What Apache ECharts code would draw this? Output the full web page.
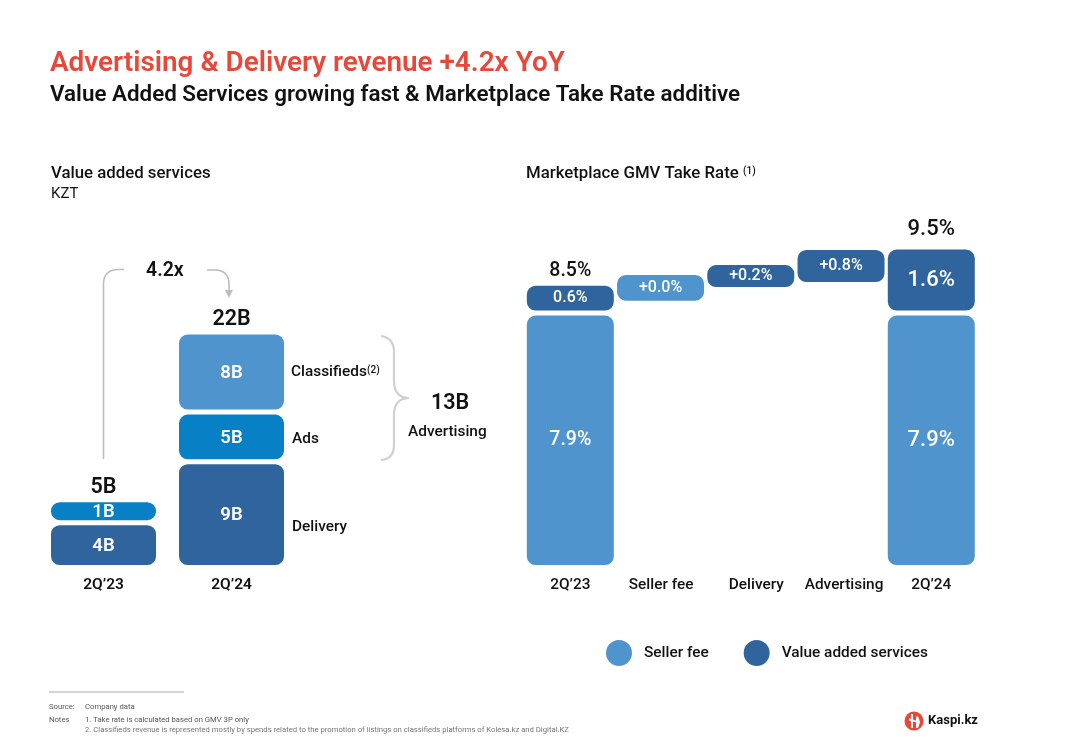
<!DOCTYPE html>
<html><head><meta charset="utf-8">
<style>html,body{margin:0;padding:0;background:#fff}#c{width:1083px;height:750px}</style>
<script src="https://cdn.jsdelivr.net/npm/echarts@6/dist/echarts.min.js"></script>
</head><body><div id="c"></div>
<script>
const vasCategories = ["2Q’23", "2Q’24"];
const deliveryValues = [4.2, 9.9];
const adsValues = [2.15, 4.65];
const classifiedsValues = [null, 7.5];
const deliveryLabels = ["4B", "9B"];
const adsLabels = ["1B", "5B"];
const classifiedsLabels = ["", "8B"];
const vasTotals = ["5B", "22B"];

const rateCategories = ["2Q’23", "Seller fee", "Delivery", "Advertising", "2Q’24"];
const baseValues = [0, 8.21, 8.63, 8.79, 0];
const sellerValues = [7.9, 0.95, null, null, 7.9];
const addedValues = [0.93, null, 0.84, 1.15, 2.05];
const sellerLabels = ["7.9%", "+0.0%", "", "", "7.9%"];
const addedLabels = ["0.6%", "", "+0.2%", "+0.8%", "1.6%"];
const rateTotals = ["8.5%", "", "", "", "9.5%"];

const BLUE_DARK = '#2F659C', BLUE_MID = '#0880C5', BLUE_LIGHT = '#4F94CD', GREY = '#BDBDBD';
const FONT = 'Roboto';
const barStyle = c => ({color: c, borderColor: '#fff', borderWidth: 2.5, borderRadius: 10});
const sum = (...a) => vasCategories.map((_, i) => a.reduce((s, x) => s + (x[i] || 0), 0));
const rateSum = rateCategories.map((_, i) => (baseValues[i] || 0) + (sellerValues[i] || 0) + (addedValues[i] || 0));

function inner(labels, size) {
  return {show: true, position: 'inside', offset: [0, 1], color: '#fff', fontFamily: FONT, fontWeight: 600,
    fontSize: size, formatter: p => labels[p.dataIndex]};
}
function innerRate(labels) {
  return {show: true, position: 'inside', color: '#fff', fontFamily: FONT, fontWeight: 500,
    formatter: p => labels[p.dataIndex], fontSize: 16};
}
// label sizes by column: the last column of the reference uses a larger type
function rateData(vals) {
  return vals.map((v, i) => v === null ? null : {value: v,
    label: {fontSize: i === 0 && v > 5 ? 19.5 : (i === 4 ? 22 : 16)}});
}
const text = (x, y, t, size, weight, extra) => ({type: 'text', x, y,
  style: Object.assign({text: t, fontFamily: FONT, fontSize: size, fontWeight: weight, fill: '#111',
    textVerticalAlign: 'middle'}, extra || {})});
// curve: start point, then [x,y] straight segments or [cx,cy,x,y] quadratic segments
function curve(start, segs) {
  const pts = [start];
  let p = start;
  segs.forEach(s => {
    if (s.length === 2) { pts.push(s); p = s; return; }
    for (let k = 1; k <= 10; k++) {
      const t = k / 10, u = 1 - t;
      pts.push([u*u*p[0] + 2*u*t*s[0] + t*t*s[2], u*u*p[1] + 2*u*t*s[1] + t*t*s[3]]);
    }
    p = [s[2], s[3]];
  });
  return pts;
}
const poly = (points, color, w) => ({type: 'polyline', shape: {points},
  style: {fill: 'none', stroke: color, lineWidth: w, lineJoin: 'round'}});
const axisShift = [0, 1, 11, 6, 0];

const chart = echarts.init(document.getElementById('c'), null, {renderer: 'canvas'});
chart.setOption({
  animation: false,
  backgroundColor: '#fff',
  title: [
    {text: 'Advertising & Delivery revenue +4.2x YoY', left: 45, top: 45, padding: 5,
      textStyle: {color: '#E8483A', fontFamily: FONT, fontWeight: 600, fontSize: 27.9}},
    {text: 'Value Added Services growing fast & Marketplace Take Rate additive', left: 45, top: 79, padding: 5,
      textStyle: {color: '#111', fontFamily: FONT, fontWeight: 600, fontSize: 22.4}}
  ],
  legend: {
    left: 599, top: 633, itemWidth: 28, itemHeight: 28, itemGap: 33, icon: 'circle',
    data: ['Seller fee', 'Value added services'],
    textStyle: {fontFamily: FONT, fontSize: 15.4, fontWeight: 500, color: '#111', padding: [0, 0, 0, 6]}
  },
  grid: [
    {left: 39.5, width: 256, top: 300.5, height: 267},
    {left: 525.2, width: 451.2, top: 245.5, height: 322}
  ],
  xAxis: [
    {type: 'category', gridIndex: 0, data: vasCategories, axisLine: {show: false}, axisTick: {show: false},
      axisLabel: {color: '#111', fontFamily: FONT, fontWeight: 600, fontSize: 15.5, margin: 10}},
    {type: 'category', gridIndex: 1,
      data: rateCategories.map((c, i) => ({value: c, textStyle: {padding: [0, 0, 0, axisShift[i]]}})),
      axisLine: {show: false}, axisTick: {show: false},
      axisLabel: {color: '#111', fontFamily: FONT, fontWeight: 500, fontSize: 15.4, margin: 10, interval: 0}}
  ],
  yAxis: [
    {type: 'value', gridIndex: 0, min: 0, max: 25, show: false},
    {type: 'value', gridIndex: 1, min: 0, max: 10, show: false}
  ],
  series: [
    {name: 'Delivery', type: 'bar', stack: 'a', xAxisIndex: 0, yAxisIndex: 0, barWidth: 110,
      data: deliveryValues, itemStyle: barStyle(BLUE_DARK), label: inner(deliveryLabels, 18.5)},
    {name: 'Ads', type: 'bar', stack: 'a', xAxisIndex: 0, yAxisIndex: 0, barWidth: 110,
      data: adsValues, itemStyle: barStyle(BLUE_MID), label: inner(adsLabels, 18.5)},
    {name: 'Classifieds', type: 'bar', stack: 'a', xAxisIndex: 0, yAxisIndex: 0, barWidth: 110,
      data: classifiedsValues, itemStyle: barStyle(BLUE_LIGHT), label: inner(classifiedsLabels, 18.5)},
    {name: 'Total VAS', type: 'scatter', xAxisIndex: 0, yAxisIndex: 0, symbolSize: 1,
      itemStyle: {color: 'rgba(0,0,0,0)', opacity: 1},
      data: sum(deliveryValues, adsValues, classifiedsValues),
      label: {show: true, position: 'top', distance: 1, color: '#111', fontFamily: FONT, fontWeight: 600, fontSize: 21.5,
        formatter: p => vasTotals[p.dataIndex]}},
    {name: 'Base', type: 'bar', stack: 'b', xAxisIndex: 1, yAxisIndex: 1, barWidth: 92,
      data: baseValues, itemStyle: {color: 'rgba(0,0,0,0)'}, silent: true},
    {name: 'Seller fee', type: 'bar', stack: 'b', xAxisIndex: 1, yAxisIndex: 1, barWidth: 92,
      data: rateData(sellerValues), itemStyle: barStyle(BLUE_LIGHT), label: innerRate(sellerLabels)},
    {name: 'Value added services', type: 'bar', stack: 'b', xAxisIndex: 1, yAxisIndex: 1, barWidth: 92,
      data: rateData(addedValues), itemStyle: barStyle(BLUE_DARK), label: innerRate(addedLabels)},
    {name: 'Total rate', type: 'scatter', xAxisIndex: 1, yAxisIndex: 1, symbolSize: 1,
      itemStyle: {color: 'rgba(0,0,0,0)', opacity: 1},
      data: rateSum.map((v, i) => rateTotals[i]
        ? {value: v, label: {fontSize: i === 4 ? 22 : 19.5, distance: i === 4 ? 6 : 2}} : null),
      label: {show: true, position: 'top', color: '#111', fontFamily: FONT, fontWeight: 500,
        formatter: p => rateTotals[p.dataIndex]}}
  ],
  graphic: [
    text(51, 173.5, 'Value added services', 16.8, 500),
    text(51, 194, 'KZT', 15, 400),
    text(526, 173.5, 'Marketplace GMV Take Rate', 16.8, 500),
    text(743, 171, '(1)', 10, 500),
    text(146, 271.5, '4.2x', 19.5, 600),
    poly(curve([103.5, 459], [[103.5, 284], [103.5, 270, 118, 269.5], [124, 269.5]]), GREY, 1.6),
    poly(curve([207, 270], [[214, 270], [229, 270, 229, 284], [229, 292]]), GREY, 1.6),
    {type: 'polygon', shape: {points: [[225, 290], [233, 290], [229, 298]]}, style: {fill: GREY}},
    poly(curve([381, 336], [[394, 338, 394, 352], [394, 381], [394, 397, 408, 398], [394, 399, 394, 415], [394, 445], [394, 459, 381, 460]]), '#D0D0D0', 2.2),
    text(291, 372.5, 'Classifieds', 15.4, 500),
    text(367, 370, '(2)', 10, 500),
    text(292, 439.5, 'Ads', 15.4, 500),
    text(292, 527.5, 'Delivery', 15.4, 500),
    text(431, 404, '13B', 21.5, 600),
    text(408, 432.5, 'Advertising', 15.4, 500),
    {type: 'line', shape: {x1: 49, y1: 692, x2: 184, y2: 692}, style: {stroke: '#AAAAAA', lineWidth: 1}},
    text(49, 707, 'Source:', 7.7, 400, {fill: '#555'}),
    text(85, 707, 'Company data', 7.7, 400, {fill: '#555'}),
    text(49, 720, 'Notes', 7.7, 400, {fill: '#555'}),
    text(85, 720, '1. Take rate is calculated based on GMV 3P only', 7.7, 400, {fill: '#555'}),
    text(85, 730, '2. Classifieds revenue is represented mostly by spends related to the promotion of listings on classifieds platforms of Kolesa.kz and Digital.KZ', 7.7, 400, {fill: '#777'}),
    {type: 'circle', shape: {cx: 914, cy: 721, r: 9.5}, style: {fill: '#E8483A'}},
    {type: 'polygon', shape: {points: [[911, 714], [913, 714], [913, 728], [911, 728]]}, style: {fill: '#fff'}},
    {type: 'polygon', shape: {points: [[916, 717], [918, 716], [920, 722], [918, 728], [916, 728]]}, style: {fill: '#fff'}},
    {type: 'polygon', shape: {points: [[909, 718], [917, 721], [917, 722.5], [909, 720.5]]}, style: {fill: '#fff'}},
    text(928, 721, 'Kaspi.kz', 13, 700)
  ]
});
</script></body></html>
